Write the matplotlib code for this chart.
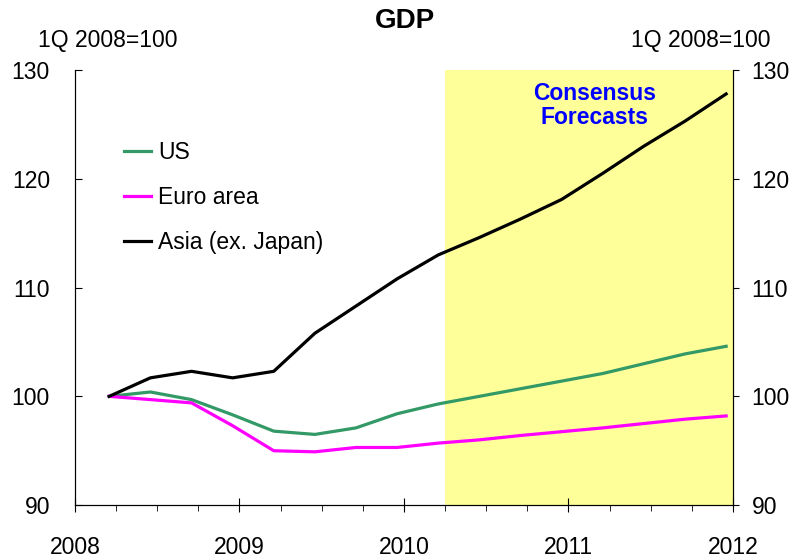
import matplotlib
matplotlib.use("Agg")
import matplotlib.pyplot as plt
import numpy as np

plt.rcParams["font.family"] = ["Liberation Sans", "DejaVu Sans"]

# quarters 1Q 2008 .. 4Q 2011, plotted mid last month of each quarter
quarters = np.arange(1, 17)
years_x = 2008 + (3 * quarters - 0.5) / 12

us = [100.0, 100.4, 99.7, 98.3, 96.8, 96.5, 97.1, 98.4,
      99.3, 100.0, 100.7, 101.4, 102.1, 103.0, 103.9, 104.6]
euro = [100.0, 99.7, 99.4, 97.3, 95.0, 94.9, 95.3, 95.3,
        95.7, 96.0, 96.4, 96.75, 97.1, 97.5, 97.9, 98.2]
asia = [100.0, 101.7, 102.3, 101.7, 102.3, 105.8, 108.3, 110.8,
        113.0, 114.6, 116.3, 118.1, 120.5, 123.0, 125.3, 127.8]

forecast_start = 2010.25
forecast_end = 2012
year_ticks = [2008, 2009, 2010, 2011, 2012]
y_ticks = [90, 100, 110, 120, 130]

fig = plt.figure(figsize=(7.95, 5.6), dpi=100)
ax = fig.add_axes([0.0943, 0.098, 0.8277, 0.777])

ax.axvspan(forecast_start, forecast_end, color="#FFFF99", lw=0, zorder=0)
ax.plot(years_x, us, color="#339966", lw=2.3, label="US", solid_joinstyle="round")
ax.plot(years_x, euro, color="#FF00FF", lw=2.3, label="Euro area", solid_joinstyle="round")
ax.plot(years_x, asia, color="black", lw=2.3, label="Asia (ex. Japan)", solid_joinstyle="round")

ax.set_xlim(2008, 2012)
ax.set_ylim(90, 130)
ax.set_xticks(year_ticks)
ax.set_xticks(np.arange(2008, 2012.01, 0.25), minor=True)
ax.set_yticks(y_ticks)
ax.spines["top"].set_visible(False)
ax.tick_params(axis="x", which="major", direction="inout", length=9.5, labelsize=16.5, pad=17.5)
ax.tick_params(axis="x", which="minor", direction="out", length=4.5)
ax.tick_params(axis="y", direction="in", length=5, labelsize=16.5, pad=18)

ax2 = ax.twinx()
ax2.set_ylim(90, 130)
ax2.set_yticks(y_ticks)
ax2.spines["top"].set_visible(False)
ax2.tick_params(axis="y", direction="out", length=4.5, labelsize=16.5, pad=9)

ax.legend(loc="upper left", bbox_to_anchor=(0.06, 0.857), frameon=False, fontsize=16.5,
          handlelength=1.2, handletextpad=0.3, labelspacing=0.95, borderaxespad=0)

ax.text(2011.16, 128.9, "Consensus\nForecasts",
        color="#0000FF", fontsize=16.5, fontweight="bold", ha="center", va="top",
        linespacing=1.05)

fig.text(0.51, 0.963, "GDP", ha="center", va="center", fontsize=20, fontweight="bold")
fig.text(0.136, 0.928, "1Q 2008=100", ha="center", va="center", fontsize=16.5)
fig.text(0.882, 0.928, "1Q 2008=100", ha="center", va="center", fontsize=16.5)

fig.savefig("out.png", dpi=100)
